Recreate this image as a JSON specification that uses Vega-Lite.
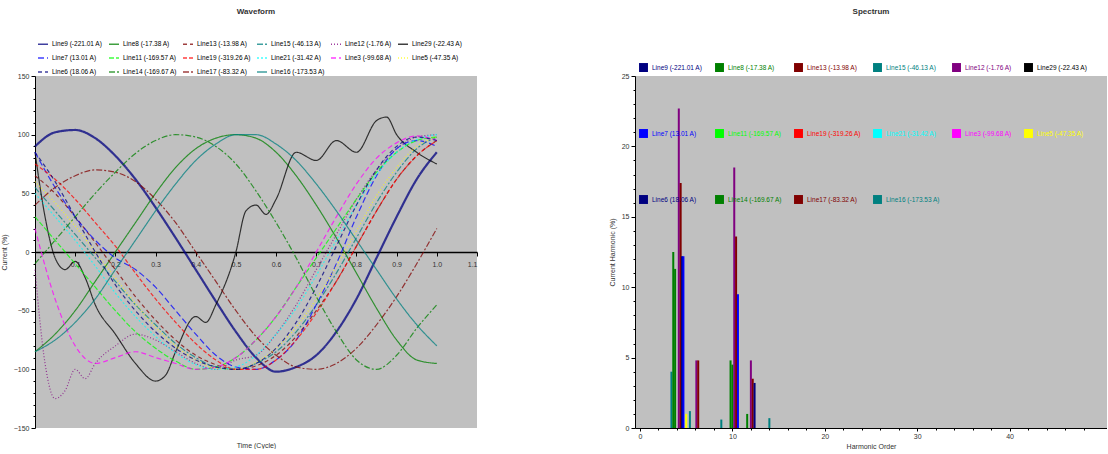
{
"$schema": "https://vega.github.io/schema/vega-lite/v6.json",
"padding": {"top": 8, "left": 0, "right": 0, "bottom": 0},
"background": "white",
"config": {"view": {"fill": "#C0C0C0", "stroke": null}, "font": "Liberation Sans",
  "axis": {"labelFontSize": 7, "titleFontSize": 7, "titleFontWeight": "normal", "grid": false, "domainColor": "#000", "tickColor": "#000", "labelColor": "#333", "titleColor": "#333", "tickSize": 4},
  "title": {"fontSize": 8, "fontWeight": "bold", "color": "#333"}},
"spacing": 130,
"resolve": {"legend": {"color": "independent", "strokeDash": "independent"}},
"datasets": {
"wave": [
{"series":"Line9 (-221.01 A)","t":0,"v":90},{"series":"Line9 (-221.01 A)","t":0.05,"v":102},{"series":"Line9 (-221.01 A)","t":0.1,"v":104},{"series":"Line9 (-221.01 A)","t":0.15,"v":97},{"series":"Line9 (-221.01 A)","t":0.2,"v":82},{"series":"Line9 (-221.01 A)","t":0.25,"v":62},{"series":"Line9 (-221.01 A)","t":0.3,"v":38},{"series":"Line9 (-221.01 A)","t":0.35,"v":12},{"series":"Line9 (-221.01 A)","t":0.4,"v":-15},{"series":"Line9 (-221.01 A)","t":0.45,"v":-42},{"series":"Line9 (-221.01 A)","t":0.5,"v":-68},{"series":"Line9 (-221.01 A)","t":0.55,"v":-90},{"series":"Line9 (-221.01 A)","t":0.6,"v":-102},{"series":"Line9 (-221.01 A)","t":0.65,"v":-98},{"series":"Line9 (-221.01 A)","t":0.7,"v":-88},{"series":"Line9 (-221.01 A)","t":0.75,"v":-68},{"series":"Line9 (-221.01 A)","t":0.8,"v":-40},{"series":"Line9 (-221.01 A)","t":0.85,"v":-5},{"series":"Line9 (-221.01 A)","t":0.9,"v":30},{"series":"Line9 (-221.01 A)","t":0.95,"v":62},{"series":"Line9 (-221.01 A)","t":1,"v":85},
{"series":"Line8 (-17.38 A)","t":0,"v":-85},{"series":"Line8 (-17.38 A)","t":0.05,"v":-70},{"series":"Line8 (-17.38 A)","t":0.1,"v":-50},{"series":"Line8 (-17.38 A)","t":0.15,"v":-25},{"series":"Line8 (-17.38 A)","t":0.2,"v":0},{"series":"Line8 (-17.38 A)","t":0.25,"v":25},{"series":"Line8 (-17.38 A)","t":0.3,"v":50},{"series":"Line8 (-17.38 A)","t":0.35,"v":72},{"series":"Line8 (-17.38 A)","t":0.4,"v":88},{"series":"Line8 (-17.38 A)","t":0.45,"v":97},{"series":"Line8 (-17.38 A)","t":0.5,"v":100},{"series":"Line8 (-17.38 A)","t":0.55,"v":97},{"series":"Line8 (-17.38 A)","t":0.6,"v":85},{"series":"Line8 (-17.38 A)","t":0.65,"v":65},{"series":"Line8 (-17.38 A)","t":0.7,"v":40},{"series":"Line8 (-17.38 A)","t":0.75,"v":12},{"series":"Line8 (-17.38 A)","t":0.8,"v":-18},{"series":"Line8 (-17.38 A)","t":0.85,"v":-48},{"series":"Line8 (-17.38 A)","t":0.9,"v":-75},{"series":"Line8 (-17.38 A)","t":0.95,"v":-92},{"series":"Line8 (-17.38 A)","t":1,"v":-95},
{"series":"Line13 (-13.98 A)","t":0,"v":65},{"series":"Line13 (-13.98 A)","t":0.05,"v":50},{"series":"Line13 (-13.98 A)","t":0.1,"v":30},{"series":"Line13 (-13.98 A)","t":0.15,"v":8},{"series":"Line13 (-13.98 A)","t":0.2,"v":-15},{"series":"Line13 (-13.98 A)","t":0.25,"v":-38},{"series":"Line13 (-13.98 A)","t":0.3,"v":-58},{"series":"Line13 (-13.98 A)","t":0.35,"v":-75},{"series":"Line13 (-13.98 A)","t":0.4,"v":-88},{"series":"Line13 (-13.98 A)","t":0.45,"v":-96},{"series":"Line13 (-13.98 A)","t":0.5,"v":-100},{"series":"Line13 (-13.98 A)","t":0.55,"v":-97},{"series":"Line13 (-13.98 A)","t":0.6,"v":-88},{"series":"Line13 (-13.98 A)","t":0.65,"v":-72},{"series":"Line13 (-13.98 A)","t":0.7,"v":-50},{"series":"Line13 (-13.98 A)","t":0.75,"v":-25},{"series":"Line13 (-13.98 A)","t":0.8,"v":5},{"series":"Line13 (-13.98 A)","t":0.85,"v":35},{"series":"Line13 (-13.98 A)","t":0.9,"v":62},{"series":"Line13 (-13.98 A)","t":0.95,"v":82},{"series":"Line13 (-13.98 A)","t":1,"v":95},
{"series":"Line15 (-46.13 A)","t":0,"v":55},{"series":"Line15 (-46.13 A)","t":0.05,"v":35},{"series":"Line15 (-46.13 A)","t":0.1,"v":15},{"series":"Line15 (-46.13 A)","t":0.15,"v":-5},{"series":"Line15 (-46.13 A)","t":0.2,"v":-25},{"series":"Line15 (-46.13 A)","t":0.25,"v":-45},{"series":"Line15 (-46.13 A)","t":0.3,"v":-62},{"series":"Line15 (-46.13 A)","t":0.35,"v":-78},{"series":"Line15 (-46.13 A)","t":0.4,"v":-90},{"series":"Line15 (-46.13 A)","t":0.45,"v":-98},{"series":"Line15 (-46.13 A)","t":0.5,"v":-100},{"series":"Line15 (-46.13 A)","t":0.55,"v":-95},{"series":"Line15 (-46.13 A)","t":0.6,"v":-85},{"series":"Line15 (-46.13 A)","t":0.65,"v":-68},{"series":"Line15 (-46.13 A)","t":0.7,"v":-45},{"series":"Line15 (-46.13 A)","t":0.75,"v":-18},{"series":"Line15 (-46.13 A)","t":0.8,"v":12},{"series":"Line15 (-46.13 A)","t":0.85,"v":42},{"series":"Line15 (-46.13 A)","t":0.9,"v":68},{"series":"Line15 (-46.13 A)","t":0.95,"v":88},{"series":"Line15 (-46.13 A)","t":1,"v":98},
{"series":"Line12 (-1.76 A)","t":0,"v":-15},{"series":"Line12 (-1.76 A)","t":0.025,"v":-95},{"series":"Line12 (-1.76 A)","t":0.05,"v":-125},{"series":"Line12 (-1.76 A)","t":0.075,"v":-118},{"series":"Line12 (-1.76 A)","t":0.1,"v":-100},{"series":"Line12 (-1.76 A)","t":0.125,"v":-108},{"series":"Line12 (-1.76 A)","t":0.15,"v":-95},{"series":"Line12 (-1.76 A)","t":0.2,"v":-80},{"series":"Line12 (-1.76 A)","t":0.25,"v":-70},{"series":"Line12 (-1.76 A)","t":0.3,"v":-75},{"series":"Line12 (-1.76 A)","t":0.35,"v":-85},{"series":"Line12 (-1.76 A)","t":0.4,"v":-95},{"series":"Line12 (-1.76 A)","t":0.45,"v":-100},{"series":"Line12 (-1.76 A)","t":0.5,"v":-92},{"series":"Line12 (-1.76 A)","t":0.55,"v":-88},{"series":"Line12 (-1.76 A)","t":0.6,"v":-70},{"series":"Line12 (-1.76 A)","t":0.65,"v":-45},{"series":"Line12 (-1.76 A)","t":0.7,"v":-15},{"series":"Line12 (-1.76 A)","t":0.75,"v":15},{"series":"Line12 (-1.76 A)","t":0.8,"v":45},{"series":"Line12 (-1.76 A)","t":0.85,"v":70},{"series":"Line12 (-1.76 A)","t":0.9,"v":88},{"series":"Line12 (-1.76 A)","t":0.95,"v":98},{"series":"Line12 (-1.76 A)","t":1,"v":100},
{"series":"Line29 (-22.43 A)","t":0,"v":85},{"series":"Line29 (-22.43 A)","t":0.025,"v":30},{"series":"Line29 (-22.43 A)","t":0.05,"v":-5},{"series":"Line29 (-22.43 A)","t":0.075,"v":-15},{"series":"Line29 (-22.43 A)","t":0.1,"v":-8},{"series":"Line29 (-22.43 A)","t":0.125,"v":-22},{"series":"Line29 (-22.43 A)","t":0.15,"v":-45},{"series":"Line29 (-22.43 A)","t":0.2,"v":-70},{"series":"Line29 (-22.43 A)","t":0.25,"v":-95},{"series":"Line29 (-22.43 A)","t":0.3,"v":-110},{"series":"Line29 (-22.43 A)","t":0.325,"v":-105},{"series":"Line29 (-22.43 A)","t":0.35,"v":-85},{"series":"Line29 (-22.43 A)","t":0.4,"v":-55},{"series":"Line29 (-22.43 A)","t":0.425,"v":-60},{"series":"Line29 (-22.43 A)","t":0.45,"v":-45},{"series":"Line29 (-22.43 A)","t":0.5,"v":0},{"series":"Line29 (-22.43 A)","t":0.525,"v":35},{"series":"Line29 (-22.43 A)","t":0.55,"v":40},{"series":"Line29 (-22.43 A)","t":0.575,"v":32},{"series":"Line29 (-22.43 A)","t":0.6,"v":45},{"series":"Line29 (-22.43 A)","t":0.65,"v":85},{"series":"Line29 (-22.43 A)","t":0.7,"v":78},{"series":"Line29 (-22.43 A)","t":0.75,"v":95},{"series":"Line29 (-22.43 A)","t":0.8,"v":85},{"series":"Line29 (-22.43 A)","t":0.85,"v":112},{"series":"Line29 (-22.43 A)","t":0.875,"v":115},{"series":"Line29 (-22.43 A)","t":0.9,"v":100},{"series":"Line29 (-22.43 A)","t":0.95,"v":85},{"series":"Line29 (-22.43 A)","t":1,"v":75},
{"series":"Line7 (13.01 A)","t":0,"v":85},{"series":"Line7 (13.01 A)","t":0.05,"v":55},{"series":"Line7 (13.01 A)","t":0.1,"v":30},{"series":"Line7 (13.01 A)","t":0.15,"v":10},{"series":"Line7 (13.01 A)","t":0.2,"v":-5},{"series":"Line7 (13.01 A)","t":0.25,"v":-15},{"series":"Line7 (13.01 A)","t":0.3,"v":-30},{"series":"Line7 (13.01 A)","t":0.35,"v":-50},{"series":"Line7 (13.01 A)","t":0.4,"v":-70},{"series":"Line7 (13.01 A)","t":0.45,"v":-88},{"series":"Line7 (13.01 A)","t":0.5,"v":-98},{"series":"Line7 (13.01 A)","t":0.55,"v":-100},{"series":"Line7 (13.01 A)","t":0.6,"v":-92},{"series":"Line7 (13.01 A)","t":0.65,"v":-75},{"series":"Line7 (13.01 A)","t":0.7,"v":-45},{"series":"Line7 (13.01 A)","t":0.75,"v":-10},{"series":"Line7 (13.01 A)","t":0.8,"v":30},{"series":"Line7 (13.01 A)","t":0.85,"v":65},{"series":"Line7 (13.01 A)","t":0.9,"v":88},{"series":"Line7 (13.01 A)","t":0.95,"v":95},{"series":"Line7 (13.01 A)","t":1,"v":90},
{"series":"Line11 (-169.57 A)","t":0,"v":30},{"series":"Line11 (-169.57 A)","t":0.05,"v":10},{"series":"Line11 (-169.57 A)","t":0.1,"v":-10},{"series":"Line11 (-169.57 A)","t":0.15,"v":-30},{"series":"Line11 (-169.57 A)","t":0.2,"v":-50},{"series":"Line11 (-169.57 A)","t":0.25,"v":-68},{"series":"Line11 (-169.57 A)","t":0.3,"v":-82},{"series":"Line11 (-169.57 A)","t":0.35,"v":-93},{"series":"Line11 (-169.57 A)","t":0.4,"v":-100},{"series":"Line11 (-169.57 A)","t":0.45,"v":-98},{"series":"Line11 (-169.57 A)","t":0.5,"v":-90},{"series":"Line11 (-169.57 A)","t":0.55,"v":-75},{"series":"Line11 (-169.57 A)","t":0.6,"v":-55},{"series":"Line11 (-169.57 A)","t":0.65,"v":-30},{"series":"Line11 (-169.57 A)","t":0.7,"v":-5},{"series":"Line11 (-169.57 A)","t":0.75,"v":20},{"series":"Line11 (-169.57 A)","t":0.8,"v":45},{"series":"Line11 (-169.57 A)","t":0.85,"v":68},{"series":"Line11 (-169.57 A)","t":0.9,"v":85},{"series":"Line11 (-169.57 A)","t":0.95,"v":95},{"series":"Line11 (-169.57 A)","t":1,"v":98},
{"series":"Line19 (-319.26 A)","t":0,"v":75},{"series":"Line19 (-319.26 A)","t":0.05,"v":62},{"series":"Line19 (-319.26 A)","t":0.1,"v":45},{"series":"Line19 (-319.26 A)","t":0.15,"v":25},{"series":"Line19 (-319.26 A)","t":0.2,"v":5},{"series":"Line19 (-319.26 A)","t":0.25,"v":-18},{"series":"Line19 (-319.26 A)","t":0.3,"v":-40},{"series":"Line19 (-319.26 A)","t":0.35,"v":-60},{"series":"Line19 (-319.26 A)","t":0.4,"v":-78},{"series":"Line19 (-319.26 A)","t":0.45,"v":-92},{"series":"Line19 (-319.26 A)","t":0.5,"v":-100},{"series":"Line19 (-319.26 A)","t":0.55,"v":-100},{"series":"Line19 (-319.26 A)","t":0.6,"v":-92},{"series":"Line19 (-319.26 A)","t":0.65,"v":-75},{"series":"Line19 (-319.26 A)","t":0.7,"v":-52},{"series":"Line19 (-319.26 A)","t":0.75,"v":-25},{"series":"Line19 (-319.26 A)","t":0.8,"v":5},{"series":"Line19 (-319.26 A)","t":0.85,"v":35},{"series":"Line19 (-319.26 A)","t":0.9,"v":62},{"series":"Line19 (-319.26 A)","t":0.95,"v":82},{"series":"Line19 (-319.26 A)","t":1,"v":95},
{"series":"Line21 (-31.42 A)","t":0,"v":50},{"series":"Line21 (-31.42 A)","t":0.05,"v":30},{"series":"Line21 (-31.42 A)","t":0.1,"v":10},{"series":"Line21 (-31.42 A)","t":0.15,"v":-12},{"series":"Line21 (-31.42 A)","t":0.2,"v":-35},{"series":"Line21 (-31.42 A)","t":0.25,"v":-55},{"series":"Line21 (-31.42 A)","t":0.3,"v":-72},{"series":"Line21 (-31.42 A)","t":0.35,"v":-86},{"series":"Line21 (-31.42 A)","t":0.4,"v":-96},{"series":"Line21 (-31.42 A)","t":0.45,"v":-100},{"series":"Line21 (-31.42 A)","t":0.5,"v":-98},{"series":"Line21 (-31.42 A)","t":0.55,"v":-88},{"series":"Line21 (-31.42 A)","t":0.6,"v":-70},{"series":"Line21 (-31.42 A)","t":0.65,"v":-48},{"series":"Line21 (-31.42 A)","t":0.7,"v":-20},{"series":"Line21 (-31.42 A)","t":0.75,"v":10},{"series":"Line21 (-31.42 A)","t":0.8,"v":40},{"series":"Line21 (-31.42 A)","t":0.85,"v":66},{"series":"Line21 (-31.42 A)","t":0.9,"v":85},{"series":"Line21 (-31.42 A)","t":0.95,"v":96},{"series":"Line21 (-31.42 A)","t":1,"v":100},
{"series":"Line3 (-99.68 A)","t":0,"v":20},{"series":"Line3 (-99.68 A)","t":0.05,"v":-40},{"series":"Line3 (-99.68 A)","t":0.1,"v":-80},{"series":"Line3 (-99.68 A)","t":0.15,"v":-95},{"series":"Line3 (-99.68 A)","t":0.2,"v":-90},{"series":"Line3 (-99.68 A)","t":0.25,"v":-85},{"series":"Line3 (-99.68 A)","t":0.3,"v":-90},{"series":"Line3 (-99.68 A)","t":0.35,"v":-95},{"series":"Line3 (-99.68 A)","t":0.4,"v":-100},{"series":"Line3 (-99.68 A)","t":0.45,"v":-98},{"series":"Line3 (-99.68 A)","t":0.5,"v":-90},{"series":"Line3 (-99.68 A)","t":0.55,"v":-75},{"series":"Line3 (-99.68 A)","t":0.6,"v":-55},{"series":"Line3 (-99.68 A)","t":0.65,"v":-30},{"series":"Line3 (-99.68 A)","t":0.7,"v":0},{"series":"Line3 (-99.68 A)","t":0.75,"v":30},{"series":"Line3 (-99.68 A)","t":0.8,"v":58},{"series":"Line3 (-99.68 A)","t":0.85,"v":80},{"series":"Line3 (-99.68 A)","t":0.9,"v":93},{"series":"Line3 (-99.68 A)","t":0.95,"v":99},{"series":"Line3 (-99.68 A)","t":1,"v":95},
{"series":"Line5 (-47.35 A)","t":0,"v":60},{"series":"Line5 (-47.35 A)","t":0.05,"v":42},{"series":"Line5 (-47.35 A)","t":0.1,"v":22},{"series":"Line5 (-47.35 A)","t":0.15,"v":0},{"series":"Line5 (-47.35 A)","t":0.2,"v":-22},{"series":"Line5 (-47.35 A)","t":0.25,"v":-44},{"series":"Line5 (-47.35 A)","t":0.3,"v":-64},{"series":"Line5 (-47.35 A)","t":0.35,"v":-80},{"series":"Line5 (-47.35 A)","t":0.4,"v":-92},{"series":"Line5 (-47.35 A)","t":0.45,"v":-99},{"series":"Line5 (-47.35 A)","t":0.5,"v":-100},{"series":"Line5 (-47.35 A)","t":0.55,"v":-94},{"series":"Line5 (-47.35 A)","t":0.6,"v":-82},{"series":"Line5 (-47.35 A)","t":0.65,"v":-64},{"series":"Line5 (-47.35 A)","t":0.7,"v":-40},{"series":"Line5 (-47.35 A)","t":0.75,"v":-12},{"series":"Line5 (-47.35 A)","t":0.8,"v":18},{"series":"Line5 (-47.35 A)","t":0.85,"v":48},{"series":"Line5 (-47.35 A)","t":0.9,"v":72},{"series":"Line5 (-47.35 A)","t":0.95,"v":90},{"series":"Line5 (-47.35 A)","t":1,"v":98},
{"series":"Line6 (18.06 A)","t":0,"v":85},{"series":"Line6 (18.06 A)","t":0.05,"v":60},{"series":"Line6 (18.06 A)","t":0.1,"v":30},{"series":"Line6 (18.06 A)","t":0.15,"v":0},{"series":"Line6 (18.06 A)","t":0.2,"v":-28},{"series":"Line6 (18.06 A)","t":0.25,"v":-50},{"series":"Line6 (18.06 A)","t":0.3,"v":-68},{"series":"Line6 (18.06 A)","t":0.35,"v":-82},{"series":"Line6 (18.06 A)","t":0.4,"v":-92},{"series":"Line6 (18.06 A)","t":0.45,"v":-98},{"series":"Line6 (18.06 A)","t":0.5,"v":-100},{"series":"Line6 (18.06 A)","t":0.55,"v":-95},{"series":"Line6 (18.06 A)","t":0.6,"v":-82},{"series":"Line6 (18.06 A)","t":0.65,"v":-60},{"series":"Line6 (18.06 A)","t":0.7,"v":-30},{"series":"Line6 (18.06 A)","t":0.75,"v":5},{"series":"Line6 (18.06 A)","t":0.8,"v":40},{"series":"Line6 (18.06 A)","t":0.85,"v":70},{"series":"Line6 (18.06 A)","t":0.9,"v":90},{"series":"Line6 (18.06 A)","t":0.95,"v":98},{"series":"Line6 (18.06 A)","t":1,"v":95},
{"series":"Line14 (-169.67 A)","t":0,"v":-10},{"series":"Line14 (-169.67 A)","t":0.05,"v":10},{"series":"Line14 (-169.67 A)","t":0.1,"v":30},{"series":"Line14 (-169.67 A)","t":0.15,"v":50},{"series":"Line14 (-169.67 A)","t":0.2,"v":68},{"series":"Line14 (-169.67 A)","t":0.25,"v":84},{"series":"Line14 (-169.67 A)","t":0.3,"v":95},{"series":"Line14 (-169.67 A)","t":0.35,"v":100},{"series":"Line14 (-169.67 A)","t":0.4,"v":98},{"series":"Line14 (-169.67 A)","t":0.45,"v":90},{"series":"Line14 (-169.67 A)","t":0.5,"v":75},{"series":"Line14 (-169.67 A)","t":0.55,"v":52},{"series":"Line14 (-169.67 A)","t":0.6,"v":25},{"series":"Line14 (-169.67 A)","t":0.65,"v":-5},{"series":"Line14 (-169.67 A)","t":0.7,"v":-38},{"series":"Line14 (-169.67 A)","t":0.75,"v":-68},{"series":"Line14 (-169.67 A)","t":0.8,"v":-92},{"series":"Line14 (-169.67 A)","t":0.85,"v":-100},{"series":"Line14 (-169.67 A)","t":0.9,"v":-88},{"series":"Line14 (-169.67 A)","t":0.95,"v":-65},{"series":"Line14 (-169.67 A)","t":1,"v":-45},
{"series":"Line17 (-83.32 A)","t":0,"v":40},{"series":"Line17 (-83.32 A)","t":0.05,"v":55},{"series":"Line17 (-83.32 A)","t":0.1,"v":65},{"series":"Line17 (-83.32 A)","t":0.15,"v":70},{"series":"Line17 (-83.32 A)","t":0.2,"v":68},{"series":"Line17 (-83.32 A)","t":0.25,"v":60},{"series":"Line17 (-83.32 A)","t":0.3,"v":45},{"series":"Line17 (-83.32 A)","t":0.35,"v":25},{"series":"Line17 (-83.32 A)","t":0.4,"v":0},{"series":"Line17 (-83.32 A)","t":0.45,"v":-25},{"series":"Line17 (-83.32 A)","t":0.5,"v":-50},{"series":"Line17 (-83.32 A)","t":0.55,"v":-72},{"series":"Line17 (-83.32 A)","t":0.6,"v":-88},{"series":"Line17 (-83.32 A)","t":0.65,"v":-98},{"series":"Line17 (-83.32 A)","t":0.7,"v":-100},{"series":"Line17 (-83.32 A)","t":0.75,"v":-95},{"series":"Line17 (-83.32 A)","t":0.8,"v":-82},{"series":"Line17 (-83.32 A)","t":0.85,"v":-62},{"series":"Line17 (-83.32 A)","t":0.9,"v":-38},{"series":"Line17 (-83.32 A)","t":0.95,"v":-10},{"series":"Line17 (-83.32 A)","t":1,"v":20},
{"series":"Line16 (-173.53 A)","t":0,"v":-85},{"series":"Line16 (-173.53 A)","t":0.05,"v":-75},{"series":"Line16 (-173.53 A)","t":0.1,"v":-60},{"series":"Line16 (-173.53 A)","t":0.15,"v":-40},{"series":"Line16 (-173.53 A)","t":0.2,"v":-15},{"series":"Line16 (-173.53 A)","t":0.25,"v":10},{"series":"Line16 (-173.53 A)","t":0.3,"v":35},{"series":"Line16 (-173.53 A)","t":0.35,"v":58},{"series":"Line16 (-173.53 A)","t":0.4,"v":78},{"series":"Line16 (-173.53 A)","t":0.45,"v":92},{"series":"Line16 (-173.53 A)","t":0.5,"v":100},{"series":"Line16 (-173.53 A)","t":0.55,"v":100},{"series":"Line16 (-173.53 A)","t":0.6,"v":92},{"series":"Line16 (-173.53 A)","t":0.65,"v":78},{"series":"Line16 (-173.53 A)","t":0.7,"v":58},{"series":"Line16 (-173.53 A)","t":0.75,"v":35},{"series":"Line16 (-173.53 A)","t":0.8,"v":10},{"series":"Line16 (-173.53 A)","t":0.85,"v":-15},{"series":"Line16 (-173.53 A)","t":0.9,"v":-40},{"series":"Line16 (-173.53 A)","t":0.95,"v":-62},{"series":"Line16 (-173.53 A)","t":1,"v":-80}
],
"bars": [
{"series":"Line16 (-173.53 A)","h":3.4,"v":4.0},
{"series":"Line8 (-17.38 A)","h":3.6,"v":12.5},
{"series":"Line14 (-169.67 A)","h":3.8,"v":11.3},
{"series":"Line12 (-1.76 A)","h":4.2,"v":22.7},
{"series":"Line13 (-13.98 A)","h":4.4,"v":17.4},
{"series":"Line9 (-221.01 A)","h":4.55,"v":12.2},
{"series":"Line7 (13.01 A)","h":4.7,"v":12.2},
{"series":"Line5 (-47.35 A)","h":5.0,"v":1.0},
{"series":"Line15 (-46.13 A)","h":5.4,"v":1.2},
{"series":"Line12 (-1.76 A)","h":6.1,"v":4.8},
{"series":"Line13 (-13.98 A)","h":6.3,"v":4.8},
{"series":"Line16 (-173.53 A)","h":8.8,"v":0.6},
{"series":"Line8 (-17.38 A)","h":9.8,"v":4.8},
{"series":"Line14 (-169.67 A)","h":10.0,"v":4.5},
{"series":"Line12 (-1.76 A)","h":10.2,"v":18.5},
{"series":"Line13 (-13.98 A)","h":10.4,"v":13.6},
{"series":"Line7 (13.01 A)","h":10.6,"v":9.5},
{"series":"Line8 (-17.38 A)","h":11.6,"v":1.0},
{"series":"Line12 (-1.76 A)","h":12.0,"v":4.8},
{"series":"Line13 (-13.98 A)","h":12.2,"v":3.5},
{"series":"Line9 (-221.01 A)","h":12.4,"v":3.2},
{"series":"Line16 (-173.53 A)","h":14.0,"v":0.7}
]
},
"hconcat": [
{
 "width": 442, "height": 352,
 "title": {"text": "Waveform", "offset": 22},
 "data": {"name": "wave"},
 "resolve": {"axis": {"x": "independent", "y": "independent"}},
 "layer": [
 {
 "mark": {"type": "line", "interpolate": "monotone", "opacity": 0.75},
 "encoding": {
  "x": {"field": "t", "type": "quantitative", "scale": {"domain": [0, 1.1], "nice": false},
        "axis": {"title": "Time (Cycle)", "values": [0.1,0.2,0.3,0.4,0.5,0.6,0.7,0.8,0.9,1.0,1.1], "offset": -176, "titleY": 189, "domainWidth": 1.5, "labelPadding": 4}},
  "y": {"field": "v", "type": "quantitative", "scale": {"domain": [-150, 150], "nice": false},
        "axis": {"title": "Current (%)", "values": [-150,-100,-50,0,50,100,150], "titlePadding": 6}},
  "color": {"field": "series", "type": "nominal",
     "scale": {"domain": ["Line9 (-221.01 A)","Line8 (-17.38 A)","Line13 (-13.98 A)","Line15 (-46.13 A)","Line12 (-1.76 A)","Line29 (-22.43 A)","Line7 (13.01 A)","Line11 (-169.57 A)","Line19 (-319.26 A)","Line21 (-31.42 A)","Line3 (-99.68 A)","Line5 (-47.35 A)","Line6 (18.06 A)","Line14 (-169.67 A)","Line17 (-83.32 A)","Line16 (-173.53 A)"],
               "range": ["#000080","#008000","#800000","#008080","#800080","#000000","#0000FF","#00FF00","#FF0000","#00FFFF","#FF00FF","#FFFF00","#000080","#008000","#800000","#008080"]},
     "legend": {"title": null, "orient": "none", "legendX": 2, "legendY": -38, "direction": "horizontal", "columns": 6, "symbolType": "stroke", "symbolSize": 100, "symbolStrokeWidth": 1.5, "labelFontSize": 6.5, "labelOffset": 3, "rowPadding": 4, "columnPadding": 3, "labelLimit": 80,
       "encode": {"labels": {"update": {"fill": {"scale": "color", "field": "value"}}}}}},
  "strokeDash": {"field": "series", "type": "nominal",
     "scale": {"domain": ["Line9 (-221.01 A)","Line8 (-17.38 A)","Line13 (-13.98 A)","Line15 (-46.13 A)","Line12 (-1.76 A)","Line29 (-22.43 A)","Line7 (13.01 A)","Line11 (-169.57 A)","Line19 (-319.26 A)","Line21 (-31.42 A)","Line3 (-99.68 A)","Line5 (-47.35 A)","Line6 (18.06 A)","Line14 (-169.67 A)","Line17 (-83.32 A)","Line16 (-173.53 A)"],
               "range": [[1,0],[1,0],[4,3],[6,2,2,2],[1,2],[1,0],[6,3],[5,2],[4,2],[2,2],[5,3],[1,2],[4,3],[6,2,2,2],[6,2,2,2],[1,0]]},
     "legend": {"title": null, "orient": "none", "legendX": 2, "legendY": -38, "direction": "horizontal", "columns": 6, "symbolType": "stroke", "symbolSize": 100, "symbolStrokeWidth": 1.5, "labelFontSize": 6.5, "labelOffset": 3, "rowPadding": 4, "columnPadding": 3, "labelLimit": 80,
       "encode": {"labels": {"update": {"fill": {"scale": "color", "field": "value"}}}}}},
  "strokeWidth": {"condition": {"test": "datum.series === 'Line9 (-221.01 A)'", "value": 2.2}, "value": 1.2}
 }
 },
 {
 "mark": {"type": "point", "opacity": 0},
 "encoding": {
  "x": {"field": "t", "type": "quantitative", "axis": null},
  "y": {"field": "v", "type": "quantitative",
        "axis": {"orient": "left", "title": null, "labels": false, "domain": false, "tickSize": 2,
                 "values": [-140,-130,-120,-110,-90,-80,-70,-60,-40,-30,-20,-10,10,20,30,40,60,70,80,90,110,120,130,140]}}
 }
 }
 ]
},
{
 "width": 472, "height": 352,
 "title": {"text": "Spectrum", "offset": 46},
 "data": {"name": "bars"},
 "resolve": {"axis": {"x": "independent", "y": "independent"}},
 "layer": [
 {
 "mark": {"type": "bar", "size": 2, "orient": "vertical"},
 "encoding": {
  "x": {"field": "h", "type": "quantitative", "scale": {"domain": [0, 50], "nice": false},
        "axis": {"title": "Harmonic Order", "values": [0,10,20,30,40], "titlePadding": 3, "labelPadding": 1, "tickSize": 3}},
  "y": {"field": "v", "type": "quantitative", "stack": null, "scale": {"domain": [0, 25], "nice": false},
        "axis": {"title": "Current Harmonic (%)", "values": [0,5,10,15,20,25], "titlePadding": 6}},
  "color": {"field": "series", "type": "nominal",
     "legend": {"title": null, "orient": "none", "legendX": 3, "legendY": -14, "direction": "horizontal", "columns": 6, "symbolType": "square", "symbolSize": 80, "symbolOpacity": 1, "labelFontSize": 6.5, "labelOffset": 3, "rowPadding": 56, "columnPadding": 11, "labelLimit": 80,
       "encode": {"labels": {"update": {"fill": {"scale": "color", "field": "value"}}}}}}
 }
 },
 {
 "mark": {"type": "point", "opacity": 0},
 "encoding": {
  "x": {"field": "h", "type": "quantitative",
        "axis": {"orient": "bottom", "title": null, "labels": false, "domain": false, "tickSize": 2,
                 "values": [2,4,6,8,12,14,16,18,22,24,26,28,32,34,36,38,42,44,46,48]}},
  "y": {"field": "v", "type": "quantitative",
        "axis": {"orient": "left", "title": null, "labels": false, "domain": false, "tickSize": 2,
                 "values": [1,2,3,4,6,7,8,9,11,12,13,14,16,17,18,19,21,22,23,24]}}
 }
 }
 ]
}
]
}
